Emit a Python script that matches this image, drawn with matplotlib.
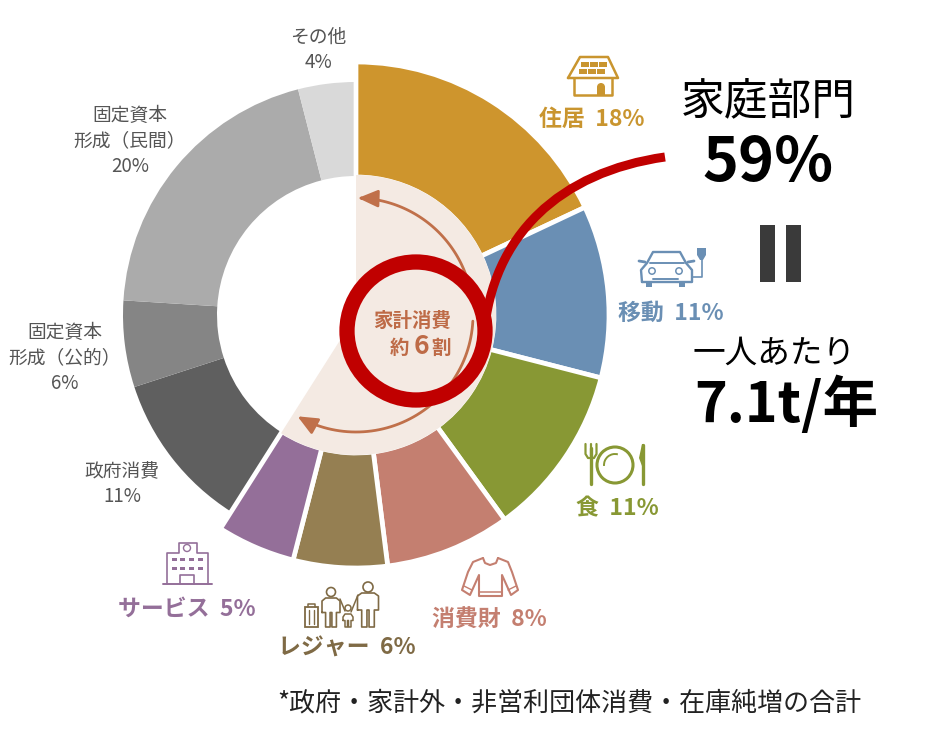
import numpy as np
import matplotlib
matplotlib.use('Agg')
import matplotlib.pyplot as plt
from matplotlib.patches import Wedge, Circle, Rectangle, FancyArrowPatch, PathPatch, Polygon, Arc
from matplotlib.path import Path

plt.rcParams['font.family'] = ['Noto Sans CJK JP', 'DejaVu Sans']

# share of emissions (%)
home_names = ['住居', '移動', '食', '消費財', 'レジャー', 'サービス']
home_values = [18, 11, 11, 8, 6, 5]
home_colors = ['#CE952D', '#6A8FB4', '#889834', '#C47F70', '#957F52', '#946F99']
other_names = ['政府消費', '固定資本\n形成（公的）', '固定資本\n形成（民間）', 'その他']
other_values = [11, 6, 20, 4]
other_colors = ['#5F5F5F', '#858585', '#ABABAB', '#D9D9D9']

CX, CY = 356, 315


def sector(ax, start, value, r, inner, color, lw):
    # y axis is inverted so angles grow clockwise, -90 is the top
    t1 = -90 + 3.6 * start
    t2 = t1 + 3.6 * value
    ax.add_patch(Wedge((CX, CY), r, t1, t2, width=r - inner, facecolor=color,
                       edgecolor='white' if lw else color, linewidth=lw))


def stroke(ax, pts, color, lw=1.4, closed=False):
    pts = list(pts)
    if closed:
        pts.append(pts[0])
    xs, ys = zip(*pts)
    ax.plot(xs, ys, color=color, lw=lw, solid_capstyle='round', solid_joinstyle='round')


def person(ax, cx, head_y, head_r, w, top, bottom, c, lw=1.2):
    mid = top + (bottom - top) * 0.5
    ax.add_patch(Circle((cx, head_y), head_r, fill=False, ec=c, lw=lw))
    stroke(ax, [(cx - w * .5, mid), (cx - w * .5, top + 3), (cx - w * .3, top), (cx + w * .3, top),
                (cx + w * .5, top + 3), (cx + w * .5, mid), (cx + w * .3, mid), (cx + w * .3, bottom),
                (cx + w * .05, bottom), (cx + w * .05, mid), (cx - w * .05, mid), (cx - w * .05, bottom),
                (cx - w * .3, bottom), (cx - w * .3, mid)], c, lw, closed=True)


def house_icon(ax, c):
    stroke(ax, [(568, 78), (580, 57), (608, 57), (618, 78)], c, 1.8, closed=True)
    stroke(ax, [(574, 78), (574, 95), (612, 95), (612, 78)], c, 1.8)
    for row, y in enumerate([62, 69]):
        for i in range(3):
            x = 581 + i * 9 - row * 2
            ax.add_patch(Rectangle((x, y), 7.5, 5, color=c, lw=0))
    ax.add_patch(Rectangle((597, 87), 8, 8, color=c, lw=0))
    ax.add_patch(Circle((601, 87), 4, color=c, lw=0))


def car_icon(ax, c):
    stroke(ax, [(642, 282), (641, 270), (647, 263), (653, 252), (680, 252), (686, 263),
                (692, 270), (692, 282)], c, 1.7, closed=True)
    stroke(ax, [(650, 263), (684, 263)], c, 1.4)
    stroke(ax, [(639, 261), (645, 262)], c, 2)
    stroke(ax, [(688, 262), (694, 261)], c, 2)
    ax.add_patch(Circle((652, 271), 3.2, fill=False, ec=c, lw=1.1))
    ax.add_patch(Circle((679, 271), 3.2, fill=False, ec=c, lw=1.1))
    ax.add_patch(Rectangle((646, 282), 6, 5, color=c, lw=0))
    ax.add_patch(Rectangle((679, 282), 6, 5, color=c, lw=0))
    stroke(ax, [(653, 279), (678, 279)], c, 1.4)
    stroke(ax, [(692, 277), (702, 277), (702, 258)], c, 1.2)
    ax.add_patch(Polygon([(697, 248), (706, 248), (706, 255), (703, 260), (700, 260), (697, 255)],
                         color=c, lw=0))


def food_icon(ax, c):
    ax.add_patch(Circle((615, 465), 18, fill=False, ec=c, lw=2.2))
    ax.add_patch(Arc((615, 465), 22, 22, theta1=175, theta2=285, ec=c, lw=1.4))
    stroke(ax, [(591, 448), (591, 484)], c, 2.4)
    stroke(ax, [(585.5, 444), (585.5, 454), (588, 458), (594, 458), (596.5, 454), (596.5, 444)], c, 1.6)
    stroke(ax, [(591, 444), (591, 456)], c, 1.6)
    stroke(ax, [(643, 445), (643, 484)], c, 2.4)
    ax.add_patch(Polygon([(642, 444), (644, 444), (645, 462), (642, 466), (639, 458)], color=c, lw=0))


def sweater_icon(ax, c):
    stroke(ax, [(483, 558), (473, 562), (468, 572), (462, 590), (470, 595), (479, 575), (479, 596),
                (502, 596), (502, 575), (511, 595), (518, 590), (512, 572), (508, 562), (498, 558)], c, 1.5)
    stroke(ax, [(483, 558), (485, 563), (490, 565), (496, 563), (498, 558)], c, 1.5)
    stroke(ax, [(480, 592), (501, 592)], c, 1.1)
    stroke(ax, [(464, 586), (472, 590)], c, 1)
    stroke(ax, [(508, 590), (516, 586)], c, 1)


def family_icon(ax, c):
    person(ax, 331, 592, 4.5, 18, 598, 627, c)
    person(ax, 368, 587, 5, 21, 593, 627, c)
    person(ax, 348, 608, 3, 10, 614, 627, c, 1.1)
    stroke(ax, [(340, 599), (345, 611)], c, 1.1)
    stroke(ax, [(358, 595), (351, 612)], c, 1.1)
    ax.add_patch(Rectangle((305, 607), 13, 20, fill=False, ec=c, lw=1.3))
    stroke(ax, [(308, 607), (308, 604), (315, 604), (315, 607)], c, 1.1)
    for x in (309, 314):
        stroke(ax, [(x, 610), (x, 624)], c, 1)


def building_icon(ax, c):
    stroke(ax, [(163, 584), (212, 584)], c, 1.4)
    stroke(ax, [(167, 584), (167, 553), (179, 553), (179, 543), (197, 543), (197, 553),
                (208, 553), (208, 584)], c, 1.2)
    ax.add_patch(Circle((187, 548), 3.5, fill=False, ec=c, lw=1))
    stroke(ax, [(180, 584), (180, 575), (194, 575), (194, 584)], c, 1.2)
    for y in (558, 567):
        for x in (172, 180, 189, 198):
            ax.add_patch(Rectangle((x, y), 5, 3, color=c, lw=0))


fig = plt.figure(figsize=(9.3, 7.34), dpi=100)
ax = fig.add_axes([0, 0, 1, 1])
ax.set_xlim(0, 930)
ax.set_ylim(734, 0)
ax.axis('off')

# donut
cum = sum(home_values)
for v, col in zip(other_values, other_colors):
    sector(ax, cum, v, 233, 139, col, 0)
    cum += v
cum = 0
for v, col in zip(home_values, home_colors):
    sector(ax, cum, v, 253, 138, col, 3.4)
    cum += v

# household part of the hole
sector(ax, 0, sum(home_values), 140, 0, '#F4EAE3', 0)

# arrows inside the hole
arrow_col = '#C0704A'
for a, b in [(-8, -89), (3, 120)]:
    th = np.radians(np.linspace(a, b, 60))
    pts = np.column_stack([CX + 117 * np.cos(th), CY + 117 * np.sin(th)])
    ax.add_patch(FancyArrowPatch(path=Path(pts), arrowstyle='-|>,head_length=0.8,head_width=0.35',
                                 mutation_scale=15, color=arrow_col, lw=2, shrinkA=0, shrinkB=0))

# red circle and leader
red = '#C00000'
ax.add_patch(Circle((416, 331), 69, fill=False, ec=red, lw=11))
ax.add_patch(PathPatch(Path([(484, 335), (492, 235), (560, 172), (665, 157)],
                            [Path.MOVETO, Path.CURVE4, Path.CURVE4, Path.CURVE4]),
                       fill=False, ec=red, lw=6.5, capstyle='butt'))

# centre text
center_col = '#BE6B47'
ax.text(451, 321, '家計消費', ha='right', va='center', fontsize=14, fontweight='bold', color=center_col)
ax.text(390, 348, '約', ha='left', va='center', fontsize=14, fontweight='bold', color=center_col)
ax.text(421, 346, '6', ha='center', va='center', fontsize=19, fontweight='bold', color=center_col)
ax.text(451, 348, '割', ha='right', va='center', fontsize=14, fontweight='bold', color=center_col)

# labels
home_pos = [(592, 119), (671, 313), (617, 509), (489, 620), (347, 648), (187, 609)]
label_cols = ['#C9952F', '#6A8FB4', '#889834', '#C47F70', '#7F6A45', '#946F99']
for name, v, (x, y), col in zip(home_names, home_values, home_pos, label_cols):
    ax.text(x, y, f'{name}  {v}%', ha='center', va='center', fontsize=16.5, fontweight='bold', color=col)

other_pos = [(122, 484), (65, 358), (130, 141), (318, 50)]
for name, v, (x, y) in zip(other_names, other_values, other_pos):
    ax.text(x, y, f'{name}\n{v}%', ha='center', va='center', fontsize=13.5, color='#555555', linespacing=1.28)

house_icon(ax, '#C9952F')
car_icon(ax, '#6A8FB4')
food_icon(ax, '#889834')
sweater_icon(ax, '#C47F70')
family_icon(ax, '#7F6A45')
building_icon(ax, '#946F99')

# right side call-out
ax.text(768, 101, '家庭部門', ha='center', va='center', fontsize=31.5, color='black')
ax.text(768, 163, '59%', ha='center', va='center', fontsize=44, fontweight='bold', color='black')
ax.add_patch(Rectangle((760, 225), 15, 57, color='#3A3A3A', lw=0))
ax.add_patch(Rectangle((786, 225), 15, 57, color='#3A3A3A', lw=0))
ax.text(774, 354, '一人あたり', ha='center', va='center', fontsize=23.5, color='black')
ax.text(786, 405, '7.1t/年', ha='center', va='center', fontsize=40, fontweight='bold', color='black')

ax.text(569, 703, '*政府・家計外・非営利団体消費・在庫純増の合計', ha='center', va='center',
        fontsize=18.7, color='#222222')

fig.savefig('out.png', dpi=100, facecolor='white')
